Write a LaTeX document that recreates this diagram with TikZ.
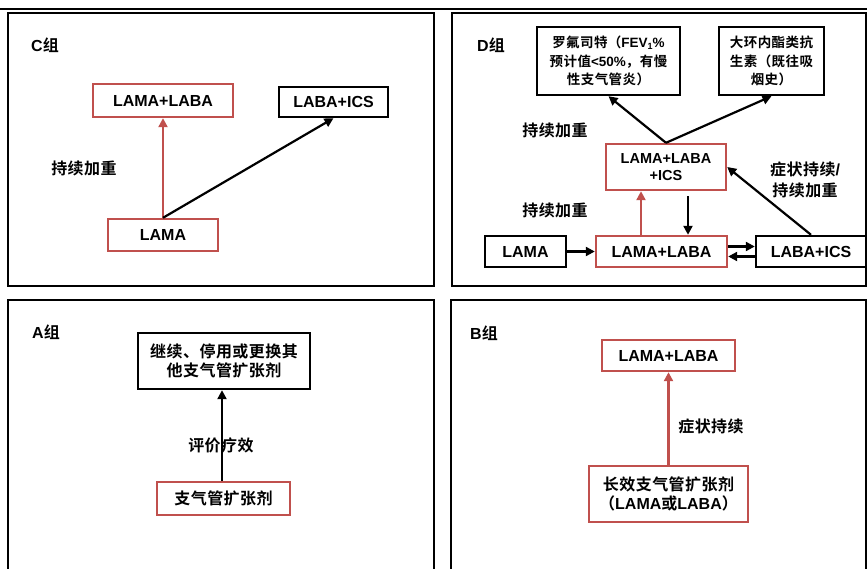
\documentclass[tikz,border=0pt]{standalone}
\usepackage{fontspec}
\setmainfont{Liberation Sans}
\newfontfamily\cjk[BoldFont={* Bold},LetterSpace=3]{Noto Sans CJK SC}
\newcommand\zh[1]{{\cjk\bfseries #1}}
\usetikzlibrary{arrows.meta}
\definecolor{boxred}{RGB}{192,80,77}
\tikzset{
  panel/.style={draw=black,line width=2.4pt},
  bx/.style={draw=black,line width=2.4pt,fill=white,inner sep=0pt,align=center,font=\bfseries\fontsize{16}{18.5}\selectfont},
  rbx/.style={bx,draw=boxred},
  smallfont/.style={font=\bfseries\fontsize{13.5}{18.5}\selectfont},
  lbl/.style={inner sep=0pt,align=center,font=\bfseries\fontsize{16}{21}\selectfont},
  arr/.style={line width=2.2pt,-{Triangle[length=9pt,width=9pt]}},
  rarr/.style={arr,draw=boxred,-{Triangle[length=9pt,width=9pt,fill=boxred]}}
}
\begin{document}
\begin{tikzpicture}[x=1pt,y=-1pt]
\useasboundingbox (0,0) rectangle (867,569);
\draw[line width=2.8pt] (0,9) -- (867,9);
% panels
\draw[panel] (8,13) rectangle (434,286);
\draw[panel] (452,13) rectangle (866,286);
\draw[panel] (8,300) rectangle (434,575);
\draw[panel] (451,300) rectangle (866,575);

% ---- C
\node[lbl] (cT) at (45,45) {C\zh{组}};
\node[rbx,minimum width=140,minimum height=33] (cLL) at (163,100.5) {LAMA+LABA};
\node[bx,minimum width=109,minimum height=30] (cLI) at (333.5,102) {LABA+ICS};
\node[rbx,minimum width=110,minimum height=32] (cL) at (163,235) {LAMA};
\node[lbl] (cLab) at (84,168) {\zh{持续加重}};
\draw[rarr] (cL.north) -- (cLL.south);
\draw[arr] (cL.north) -- (cLI.south);

% ---- D
\node[lbl] (dT0) at (491,45) {D\zh{组}};
\node[bx,smallfont,minimum width=143,minimum height=68] (dR) at (608.5,61) {\zh{罗氟司特（}FEV\raisebox{-2pt}{\fontsize{9}{9}\selectfont 1}\%\\\zh{预计值}<50\%\zh{，有慢}\\\zh{性支气管炎）}};
\node[bx,smallfont,minimum width=105,minimum height=68] (dM) at (771.5,61) {\zh{大环内酯类抗}\\\zh{生素（既往吸}\\\zh{烟史）}};
\node[rbx,font=\bfseries\fontsize{14.5}{17.5}\selectfont,minimum width=120,minimum height=46] (dT) at (666,167) {LAMA+LABA\\+ICS};
\node[bx,minimum width=81,minimum height=31] (dA) at (525.5,251.5) {LAMA};
\node[rbx,minimum width=131,minimum height=31] (dB) at (661.5,251.5) {LAMA+LABA};
\node[bx,minimum width=110,minimum height=31] (dC) at (811,251.5) {LABA+ICS};
\node[lbl] (dL1) at (555,130) {\zh{持续加重}};
\node[lbl] (dL2) at (555,210) {\zh{持续加重}};
\node[lbl] (dL3) at (805,180) {\zh{症状持续}/\\\zh{持续加重}};
\draw[arr] (dT.north) -- (dR.south);
\draw[arr] (dT.north) -- (dM.south);
\draw[rarr] ([xshift=-20.5pt]dB.north) -- ([xshift=-25pt]dT.south);
\draw[arr] ([xshift=22pt,yshift=-5pt]dT.south) -- ([xshift=26.5pt]dB.north);
\draw[arr] (dA.east) -- (dB.west);
\draw[arr] ([yshift=5pt]dB.east) -- ([yshift=5pt]dC.west);
\draw[arr] ([yshift=-5pt]dC.west) -- ([yshift=-5pt]dB.east);
\draw[arr] (dC.north) -- (dT.east);

% ---- A
\node[lbl] (aT0) at (46,332) {A\zh{组}};
\node[bx,minimum width=172,minimum height=56] (aT) at (224,361) {\zh{继续、停用或更换其}\\\zh{他支气管扩张剂}};
\node[rbx,minimum width=133,minimum height=33] (aB) at (223.5,498.5) {\zh{支气管扩张剂}};
\draw[arr] ([xshift=-1.5pt]aB.north) -- ([xshift=-2pt]aT.south);
\node[lbl] (aL) at (221,445) {\zh{评价疗效}};

% ---- B
\node[lbl] (bT0) at (484,333) {B\zh{组}};
\node[rbx,minimum width=133,minimum height=31] (bT) at (668.5,355.5) {LAMA+LABA};
\node[rbx,minimum width=159,minimum height=56] (bB) at (668.5,494) {\zh{长效支气管扩张剂}\\\zh{（}LAMA\zh{或}LABA\zh{）}};
\draw[rarr] (bB.north) -- (bT.south);
\node[lbl] (bL) at (711,426) {\zh{症状持续}};
\end{tikzpicture}
\end{document}
